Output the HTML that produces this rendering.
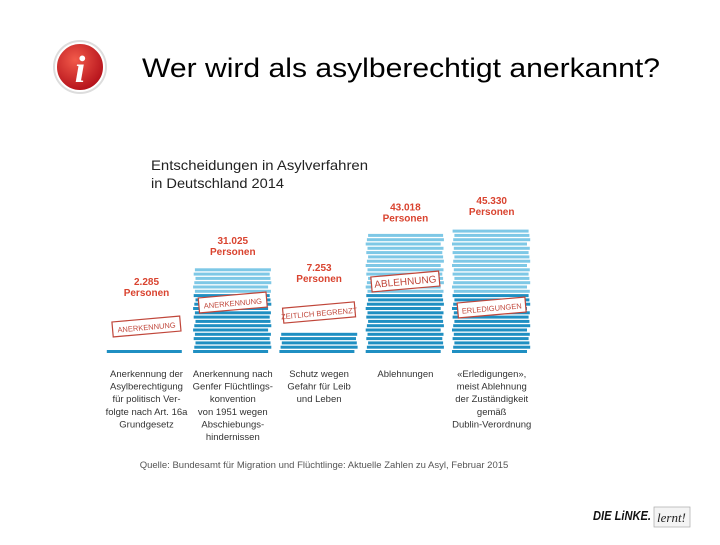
<!DOCTYPE html>
<html><head><meta charset="utf-8"><style>
body{margin:0;background:#fff;width:720px;height:540px;overflow:hidden;font-family:"Liberation Sans",sans-serif}
</style></head><body>
<svg width="720" height="540" id="svg">
<defs>
<radialGradient id="ig" cx="40%" cy="35%" r="65%"><stop offset="0" stop-color="#f25a4a"/><stop offset="1" stop-color="#b5121b"/></radialGradient>
</defs>
<g>
<circle cx="80" cy="67" r="27" fill="#ddd"/>
<circle cx="80" cy="67" r="24" fill="url(#ig)" stroke="#fff" stroke-width="2"/>
<text x="80" y="82" text-anchor="middle" font-family="Liberation Serif" font-style="italic" font-weight="bold" font-size="38" fill="#fff">i</text>
</g>
<text x="142" y="77" font-size="27" textLength="518" lengthAdjust="spacingAndGlyphs" fill="#000">Wer wird als asylberechtigt anerkannt?</text>
<text x="151" y="170" font-size="14" textLength="217" lengthAdjust="spacingAndGlyphs" fill="#222">Entscheidungen in Asylverfahren</text>
<text x="151" y="188" font-size="14" textLength="133" lengthAdjust="spacingAndGlyphs" fill="#222">in Deutschland 2014</text>
<g id="bars"></g>
<text x="324" y="468" text-anchor="middle" font-size="9.5" fill="#555">Quelle: Bundesamt für Migration und Flüchtlinge: Aktuelle Zahlen zu Asyl, Februar 2015</text>
<g>
<text x="593" y="520" font-size="13" font-weight="bold" font-style="italic" textLength="58" lengthAdjust="spacingAndGlyphs" fill="#111">DIE LiNKE.</text>
<rect x="654" y="507" width="36" height="20" fill="#f4f4f4" stroke="#aaa" stroke-width="0.7"/>
<text x="657" y="522" font-size="13" font-style="italic" font-family="Liberation Serif" fill="#222">lernt!</text>
</g>
</svg>
<script>
const categories=["Asylberechtigung","Flüchtlingskonvention","Schutz","Ablehnungen","Erledigungen"];
const values=[2285,31025,7253,43018,45330];
const valueLabels=["2.285","31.025","7.253","43.018","45.330"];
const stamps=["ANERKENNUNG","ANERKENNUNG","ZEITLICH BEGRENZT","ABLEHNUNG","ERLEDIGUNGEN"];
const descriptions=[
["Anerkennung der","Asylberechtigung","für politisch Ver-","folgte nach Art. 16a","Grundgesetz"],
["Anerkennung nach","Genfer Flüchtlings-","konvention","von 1951 wegen","Abschiebungs-","hindernissen"],
["Schutz wegen","Gefahr für Leib","und Leben"],
["Ablehnungen"],
["«Erledigungen»,","meist Ablehnung","der Zuständigkeit","gemäß","Dublin-Verordnung"]];
const NS="http://www.w3.org/2000/svg";
const g=document.getElementById('bars');
const baseY=353, maxV=45330, maxH=127;
const y=v=>baseY-v/maxV*maxH;
const colX=i=>108+i*86.3, colW=77;
function mk(t,a){const e=document.createElementNS(NS,t);for(const k in a)e.setAttribute(k,a[k]);return e;}
values.forEach((v,i)=>{
  const x0=colX(i), top=y(v), h=baseY-top;
  const grp=mk('g',{});
  
  
  const dark=baseY-Math.min(h,63);
  let k=0;
  for(let yy=baseY-3;yy>=top-0.5;yy-=4.3){
    const off=((k*7)%5)-2;
    const r=mk('rect',{x:x0+off*0.6,y:yy,width:colW-Math.abs(off),height:3,fill:yy>=dark?'#1f8fc2':'#7ec8e6'});
    grp.appendChild(r);k++;
  }
  g.appendChild(grp);
  const cx=x0+colW/2;
  // stamp position: inside bar for tall bars, above bar for short ones
  const sy=i==0?327:(i==2?313:(i==3?282:(i==1?303:308)));
  const labTop=Math.min(top,sy-20);
  const t1=mk('text',{x:cx,y:labTop-22,'text-anchor':'middle','font-size':10,'font-weight':'bold',fill:'#d9432f'});
  t1.textContent=valueLabels[i];
  
  
  g.appendChild(t1);
  const t2=mk('text',{x:cx,y:labTop-11,'text-anchor':'middle','font-size':10,'font-weight':'bold',fill:'#d9432f'});
  t2.textContent='Personen';
  
  
  g.appendChild(t2);
  const sw=i==2?72:68;
  const st=mk('g',{transform:`rotate(-5 ${cx} ${sy})`});
  
  
  st.appendChild(mk('rect',{x:cx-sw/2,y:sy-8,width:sw,height:15,fill:'#fff',stroke:'#c0463a','stroke-width':1.2}));
  const stt=mk('text',{x:cx,y:sy+3,'text-anchor':'middle','font-size':i==3?10:7.5,fill:'#c0463a'});
  stt.textContent=stamps[i];st.appendChild(stt);
  g.appendChild(st);
  descriptions[i].forEach((line,j)=>{
    const d=mk('text',{x:cx,y:377+j*12.6,'text-anchor':'middle','font-size':9.5,fill:'#333'});
    d.textContent=line;
    
    
    g.appendChild(d);
  });
});
</script>
</body></html>
